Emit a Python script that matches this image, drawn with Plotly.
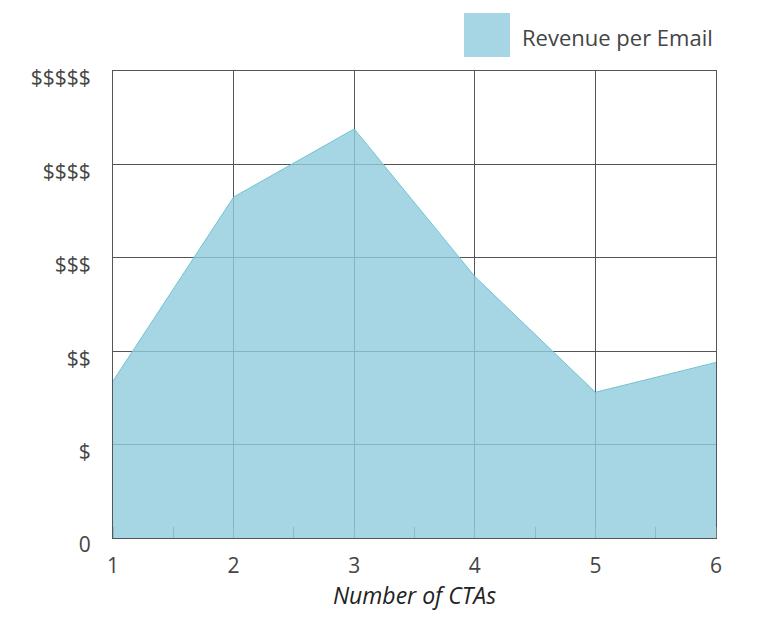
import plotly.graph_objects as go

ctas = [1, 2, 3, 4, 5, 6]
revenue = [1.68, 3.65, 4.38, 2.80, 1.56, 1.88]
y_ticks = [0, 1, 2, 3, 4, 5]
y_labels = ["0", "$", "$$", "$$$", "$$$$", "$$$$$"]
series_name = "Revenue per Email"
x_title = "Number of CTAs"

FONT = "Open Sans"
fill_col = "rgba(144,204,220,0.8)"
line_col = "#6fc4d5"
grid_col = "#555555"

# page offset of the body (~8px) is compensated here
OFF = 8
L, R, T, B = 113 - OFF, 47 + OFF, 71 - OFF, 82 + OFF
W, H = 763, 620
pw, ph = W - L - R, H - T - B

def px(x):
    return (x - OFF - L) / pw

def py(y):
    return (H - B - (y - OFF)) / ph

fig = go.Figure()
fig.add_trace(go.Scatter(
    x=ctas, y=revenue, mode="lines", fill="tozeroy",
    fillcolor=fill_col, line=dict(color=line_col, width=1),
    name=series_name, showlegend=False, hoverinfo="skip"))

fig.add_shape(type="rect", xref="paper", yref="paper",
              x0=px(464), x1=px(510), y0=py(57), y1=py(13),
              fillcolor="#a6d6e3", line=dict(width=0))
fig.add_annotation(xref="paper", yref="paper", x=px(520), y=py(37),
                   text=series_name, showarrow=False, xanchor="left",
                   yanchor="middle", font=dict(family=FONT, size=22, color="#444444"))

fig.update_layout(
    width=W, height=H, margin=dict(l=L, r=R, t=T, b=B),
    paper_bgcolor="white", plot_bgcolor="white",
    font=dict(family=FONT, color="#444444"),
    xaxis=dict(range=[1, 6], tickvals=ctas, showgrid=True, gridcolor=grid_col,
               gridwidth=1, showline=True, linecolor=grid_col, linewidth=1,
               mirror=True, zeroline=False, ticks="", layer="below traces",
               tickfont=dict(family=FONT, size=21, color="#444444"),
               ticklabelstandoff=9,
               minor=dict(dtick=0.5, ticks="inside", ticklen=11,
                          tickcolor="#777777", showgrid=False),
               title=dict(text="<i>" + x_title + "</i>", standoff=1,
                          font=dict(family=FONT, size=23, color="#222222"))),
    yaxis=dict(range=[0, 5], tickvals=y_ticks, ticktext=y_labels,
               showgrid=True, gridcolor=grid_col, gridwidth=1,
               showline=True, linecolor=grid_col, linewidth=1, mirror=True,
               zeroline=False, ticks="", layer="below traces",
               ticklabelstandoff=17, ticklabelshift=7,
               tickfont=dict(family=FONT, size=21, color="#444444")),
)

fig.write_html("out.html")
